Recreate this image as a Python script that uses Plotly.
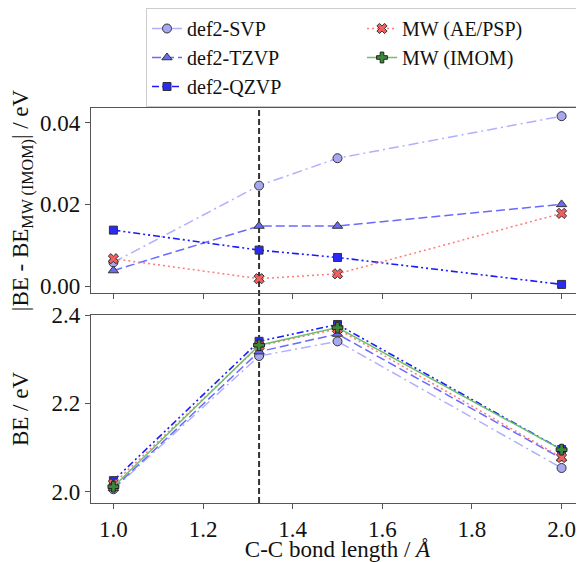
import numpy as np
import plotly.graph_objects as go

# ---- data ----
bond_length = [1.0, 1.325, 1.5, 2.0]
be_imom = [2.011, 2.332, 2.372, 2.095]
be_svp = [2.0052, 2.3074, 2.3407, 2.0534]
be_tzvp = [2.0072, 2.3173, 2.3573, 2.0750]
be_qzvp = [2.0247, 2.3408, 2.3790, 2.0954]
be_aepsp = [2.0177, 2.3302, 2.3690, 2.0772]
eq_bond = 1.325

series_names = ["def2-SVP", "def2-TZVP", "def2-QZVP", "MW (AE/PSP)", "MW (IMOM)"]
x_ticks = [1.0, 1.2, 1.4, 1.6, 1.8, 2.0]
top_ticks = [0.0, 0.02, 0.04]
bottom_ticks = [2.0, 2.2, 2.4]

FONT = "Liberation Serif, DejaVu Serif, serif"
AX = "#555555"

styles = {
    "def2-SVP": dict(line=dict(color="#b0b0ff", width=1.5, dash="10px,4px,2px,4px"),
                     marker=dict(symbol="circle", size=9, color="#a8a8f0", line=dict(color="#333", width=1)),
                     rank=1, data=be_svp),
    "def2-TZVP": dict(line=dict(color="#6a6aff", width=1.5, dash="9px,4px"),
                      marker=dict(symbol="triangle-up", size=9, color="#6b6bf0", line=dict(color="#333", width=1)),
                      rank=3, data=be_tzvp),
    "def2-QZVP": dict(line=dict(color="#1a1aff", width=1.6, dash="7px,3px,2px,3px,2px,3px"),
                      marker=dict(symbol="square", size=8, color="#2a2af5", line=dict(color="#333", width=1)),
                      rank=5, data=be_qzvp),
    "MW (AE/PSP)": dict(line=dict(color="#ff7b7b", width=1.5, dash="2px,3px"),
                        marker=dict(symbol="x", size=9, color="#f06060", line=dict(color="#333", width=1)),
                        rank=2, data=be_aepsp),
    "MW (IMOM)": dict(line=dict(color="#6cbf6c", width=1.5, dash="solid"),
                      marker=dict(symbol="cross", size=9, color="#3a8a3a", line=dict(color="#222", width=1)),
                      rank=4, data=be_imom),
}

fig = go.Figure()
ref = np.array(be_imom)
for name in series_names:
    st = styles[name]
    vals = np.array(st["data"])
    # bottom panel: BE
    fig.add_trace(go.Scatter(x=bond_length, y=vals, mode="lines+markers", name=name,
                             line=st["line"], marker=st["marker"], xaxis="x", yaxis="y",
                             legendrank=st["rank"], showlegend=True))
    # top panel: |BE - BE_IMOM| (IMOM itself not shown)
    if name != "MW (IMOM)":
        fig.add_trace(go.Scatter(x=bond_length, y=np.abs(vals - ref), mode="lines+markers", name=name,
                                 line=st["line"], marker=st["marker"], xaxis="x2", yaxis="y2",
                                 showlegend=False))

# page body adds an 8px offset; size the figure so the plot lands where the reference has it
W, H = 576, 554
ml, mr, mt, mb = 83, 0, 100, 59
pw = W - ml - mr
ph = H - mt - mb

axis_common = dict(showline=True, linecolor=AX, linewidth=1.2, mirror=True, ticks="outside",
                   ticklen=5, tickcolor=AX, showgrid=False, zeroline=False,
                   tickfont=dict(family=FONT, size=23, color="#111"))

fig.update_layout(
    width=W, height=H,
    margin=dict(l=ml, r=mr, t=mt, b=mb),
    paper_bgcolor="white", plot_bgcolor="white",
    font=dict(family=FONT, size=23, color="#111"),
    xaxis=dict(**axis_common, anchor="y", range=[0.95, 2.05], tickvals=x_ticks, tickformat=".1f",
               title=dict(text="C-C bond length / <i>Å</i>", standoff=4,
                          font=dict(family=FONT, size=23, color="#111"))),
    xaxis2=dict(**axis_common, anchor="y2", matches="x", range=[0.95, 2.05], tickvals=x_ticks,
                showticklabels=False),
    yaxis=dict(**axis_common, anchor="x", domain=[0, (ph - 207) / ph], range=[1.974, 2.4005],
               tickvals=bottom_ticks, tickformat=".1f",
               title=dict(text="BE / eV", standoff=19, font=dict(family=FONT, size=23, color="#111"))),
    yaxis2=dict(**axis_common, anchor="x2", domain=[(ph - 185) / ph, 1], range=[-0.0017, 0.0436],
                tickvals=top_ticks, tickformat=".2f",
                title=dict(text="|BE - BE<sub>MW (IMOM)</sub>| / eV", standoff=8,
                           font=dict(family=FONT, size=23, color="#111"))),
    legend=dict(orientation="h", x=(138 - ml) / pw, y=1 + (mt - 0) / ph,
                xanchor="left", yanchor="top", entrywidth=170, bgcolor="white",
                bordercolor="#cccccc", borderwidth=1, font=dict(family=FONT, size=20, color="#111")),
    shapes=[dict(type="line", xref="x", yref="paper", x0=eq_bond, x1=eq_bond, y0=0, y1=1,
                 line=dict(color="#333333", width=2, dash="6px,3px"), layer="below")],
)

fig.write_html("out.html")
